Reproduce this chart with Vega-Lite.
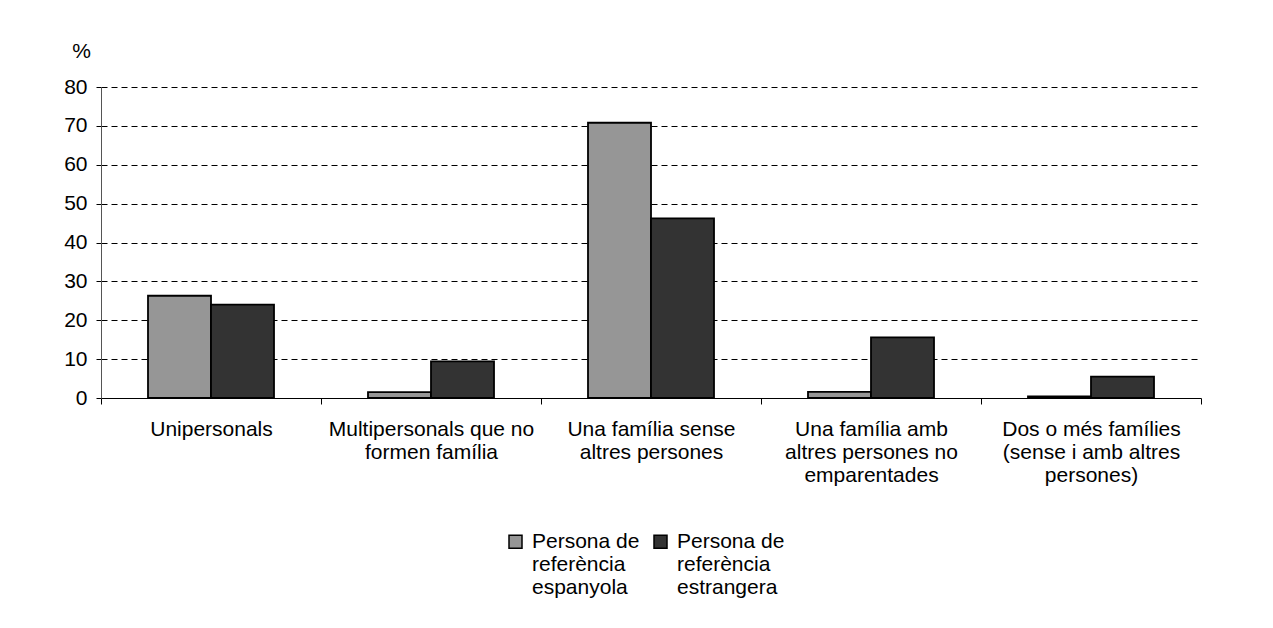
{
  "$schema": "https://vega.github.io/schema/vega-lite/v6.json",
  "autosize": {"type": "none"},
  "width": 1100,
  "height": 311,
  "padding": {"left": 101, "top": 87, "right": 72, "bottom": 230},
  "background": "white",
  "config": {
    "font": "Liberation Sans",
    "view": {"stroke": null},
    "style": {"guide-label": {"lineHeight": 23, "dy": 6}},
    "axis": {"labelFont": "Liberation Sans", "labelFontSize": 21, "labelColor": "#000", "titleFont": "Liberation Sans"},
    "legend": {"labelFont": "Liberation Sans", "labelFontSize": 21, "labelColor": "#000"}
  },
  "data": {
    "values": [
      {"cat": "Unipersonals", "serie": "Persona de|referència|espanyola", "v": 26.3},
      {"cat": "Unipersonals", "serie": "Persona de|referència|estrangera", "v": 24.0},
      {"cat": "Multipersonals que no|formen família", "serie": "Persona de|referència|espanyola", "v": 1.5},
      {"cat": "Multipersonals que no|formen família", "serie": "Persona de|referència|estrangera", "v": 9.4},
      {"cat": "Una família sense|altres persones", "serie": "Persona de|referència|espanyola", "v": 70.8},
      {"cat": "Una família sense|altres persones", "serie": "Persona de|referència|estrangera", "v": 46.2},
      {"cat": "Una família amb|altres persones no|emparentades", "serie": "Persona de|referència|espanyola", "v": 1.6},
      {"cat": "Una família amb|altres persones no|emparentades", "serie": "Persona de|referència|estrangera", "v": 15.6},
      {"cat": "Dos o més famílies|(sense i amb altres|persones)", "serie": "Persona de|referència|espanyola", "v": 0.4},
      {"cat": "Dos o més famílies|(sense i amb altres|persones)", "serie": "Persona de|referència|estrangera", "v": 5.5}
    ]
  },
  "mark": {"type": "bar", "stroke": "#000", "strokeWidth": 1.8},
  "encoding": {
    "x": {
      "field": "cat", "type": "nominal", "sort": null,
      "scale": {"paddingInner": 0, "paddingOuter": 0},
      "axis": {
        "title": null, "labelAngle": 0, "labelExpr": "split(datum.label, '|')",
        "labelLineHeight": 23, "labelBaseline": "top", "labelPadding": 8,
        "tickBand": "extent", "tickSize": 6, "tickColor": "#000", "domainColor": "#000", "domainWidth": 1.2,
        "labelLimit": 300
      }
    },
    "xOffset": {
      "field": "serie", "type": "nominal", "sort": null,
      "scale": {"paddingInner": 0, "paddingOuter": 0.746}
    },
    "y": {
      "field": "v", "type": "quantitative",
      "scale": {"domain": [0, 80], "nice": false},
      "axis": {
        "values": [0, 10, 20, 30, 40, 50, 60, 70, 80],
        "title": "%", "titleAngle": 0, "titleFontSize": 21, "titleFontWeight": "normal",
        "titleAlign": "center", "titleBaseline": "alphabetic", "titleX": -20, "titleY": -30,
        "grid": true, "gridColor": "#000", "gridDash": [6, 4], "gridWidth": 1,
        "tickSize": 5, "tickColor": "#000", "domainColor": "#555", "labelPadding": 9, "labelOffset": -6
      }
    },
    "fill": {
      "field": "serie", "type": "nominal", "sort": null,
      "scale": {"range": ["#969696", "#333333"]},
      "legend": {
        "title": null, "orient": "none", "direction": "horizontal", "legendX": 404, "legendY": 444,
        "labelExpr": "split(datum.label, '|')", "labelBaseline": "alphabetic",
        "symbolType": "square", "symbolSize": 169, "symbolStrokeColor": "#000", "symbolStrokeWidth": 1.5,
        "labelOffset": 6, "columnPadding": 10, "padding": 0, "labelLimit": 300
      }
    }
  }
}
